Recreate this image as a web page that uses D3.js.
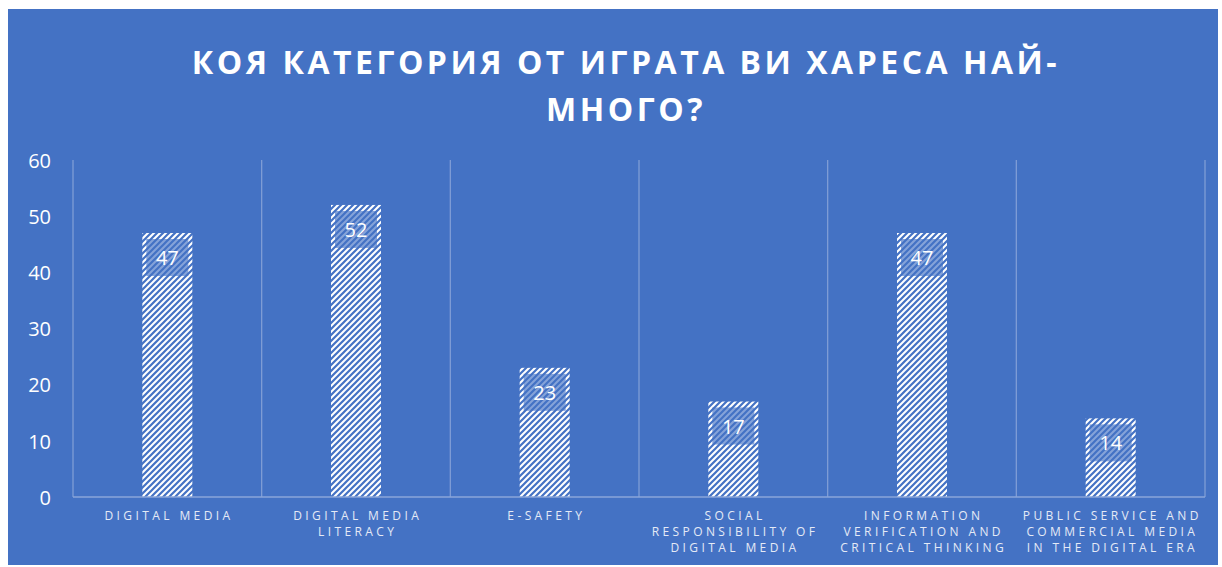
<!DOCTYPE html>
<html>
<head>
<meta charset="utf-8">
<script src="https://cdn.jsdelivr.net/npm/d3@7"></script>
<style>
  body { margin: 0; background: #fff; }
  svg { display: block; }
</style>
</head>
<body>
<div id="chart"></div>
<script>
(function () {
    'use strict';

    var titleLines = ["КОЯ КАТЕГОРИЯ ОТ ИГРАТА ВИ ХАРЕСА НАЙ-", "МНОГО?"];
    var categories = [
        ["DIGITAL MEDIA"],
        ["DIGITAL MEDIA", "LITERACY"],
        ["E-SAFETY"],
        ["SOCIAL", "RESPONSIBILITY OF", "DIGITAL MEDIA"],
        ["INFORMATION", "VERIFICATION AND", "CRITICAL THINKING"],
        ["PUBLIC SERVICE AND", "COMMERCIAL MEDIA", "IN THE DIGITAL ERA"]
    ];
    var values = [47, 52, 23, 17, 47, 14];
    var yTicks = [0, 10, 20, 30, 40, 50, 60];

    var width = 1222, height = 567;
    var blue = "#4472C4";
    var plot = {left: 73, right: 1205, top: 160, bottom: 497};

    var svg = d3.select("#chart").append("svg")
        .attr("width", width)
        .attr("height", height);

    var defs = svg.append("defs");
    var pat = defs.append("pattern")
        .attr("id", "hatch")
        .attr("patternUnits", "userSpaceOnUse")
        .attr("width", 6)
        .attr("height", 6);
    pat.append("rect").attr("width", 6).attr("height", 6).attr("fill", "#fff");
    pat.append("path")
        .attr("d", "M-1,1 l2,-2 M0,6 l6,-6 M5,7 l2,-2")
        .attr("stroke", blue)
        .attr("stroke-width", 2.2);

    // chart background
    svg.append("rect")
        .attr("x", 8).attr("y", 9)
        .attr("width", 1210).attr("height", 556)
        .attr("fill", blue);

    // title
    svg.append("g").selectAll("text")
        .data(titleLines)
        .enter().append("text")
        .attr("x", 626)
        .attr("y", function (d, i) { return 74 + i * 47; })
        .attr("text-anchor", "middle")
        .attr("fill", "#fff")
        .attr("font-family", "'Open Sans', sans-serif")
        .attr("font-weight", "bold")
        .attr("font-size", 32)
        .attr("letter-spacing", 3.5)
        .text(function (d) { return d; });

    var x = d3.scaleBand()
        .domain(d3.range(categories.length))
        .range([plot.left, plot.right])
        .paddingInner(0)
        .paddingOuter(0);

    var y = d3.scaleLinear()
        .domain([0, 60])
        .range([plot.bottom, plot.top]);

    var barW = 50;

    // category separators
    svg.append("g").selectAll("line")
        .data(d3.range(categories.length + 1))
        .enter().append("line")
        .attr("x1", function (d) { return d < categories.length ? x(d) : plot.right; })
        .attr("x2", function (d) { return d < categories.length ? x(d) : plot.right; })
        .attr("y1", plot.top)
        .attr("y2", plot.bottom)
        .attr("stroke", "#7f9dd6")
        .attr("stroke-width", 1.3);

    // y axis labels
    var yAxis = d3.axisLeft(y).tickValues(yTicks).tickSize(0).tickPadding(0);
    var ya = svg.append("g")
        .attr("transform", "translate(51,0)")
        .call(yAxis);
    ya.select(".domain").remove();
    ya.selectAll("text")
        .attr("fill", "#fff")
        .attr("font-family", "'Open Sans', sans-serif")
        .attr("font-size", 20)
        .attr("dy", "0.36em");

    // bars
    svg.append("g").selectAll("rect")
        .data(values)
        .enter().append("rect")
        .attr("x", function (d, i) { return x(i) + x.bandwidth() / 2 - barW / 2; })
        .attr("y", function (d) { return y(d); })
        .attr("width", barW)
        .attr("height", function (d) { return y(0) - y(d); })
        .attr("fill", "url(#hatch)");

    // baseline
    svg.append("line")
        .attr("x1", plot.left).attr("x2", plot.right)
        .attr("y1", plot.bottom).attr("y2", plot.bottom)
        .attr("stroke", "#8aa6da")
        .attr("stroke-width", 1.3);

    // data labels
    var lab = svg.append("g").selectAll("g")
        .data(values)
        .enter().append("g")
        .attr("transform", function (d, i) {
            return "translate(" + (x(i) + x.bandwidth() / 2) + "," + (y(d) + 6) + ")";
        });
    lab.append("rect")
        .attr("x", -21).attr("y", 0)
        .attr("width", 42).attr("height", 37)
        .attr("fill", blue)
        .attr("fill-opacity", 0.65);
    lab.append("text")
        .attr("x", 0).attr("y", 26)
        .attr("text-anchor", "middle")
        .attr("fill", "#fff")
        .attr("font-family", "'Open Sans', sans-serif")
        .attr("font-size", 20)
        .text(function (d) { return d; });

    // x labels
    var xl = svg.append("g").selectAll("text")
        .data(categories)
        .enter().append("text")
        .attr("text-anchor", "middle")
        .attr("fill", "#e4eaf6")
        .attr("font-family", "'Open Sans', sans-serif")
        .attr("font-size", 12)
        .attr("letter-spacing", 3.4);
    xl.selectAll("tspan")
        .data(function (d, i) { return d.map(function (t) { return {t: t, i: i}; }); })
        .enter().append("tspan")
        .attr("x", function (d) { return x(d.i) + x.bandwidth() / 2 + 1.7; })
        .attr("y", function (d, j) { return 520 + j * 16; })
        .text(function (d) { return d.t; });
})();
</script>
</body>
</html>
